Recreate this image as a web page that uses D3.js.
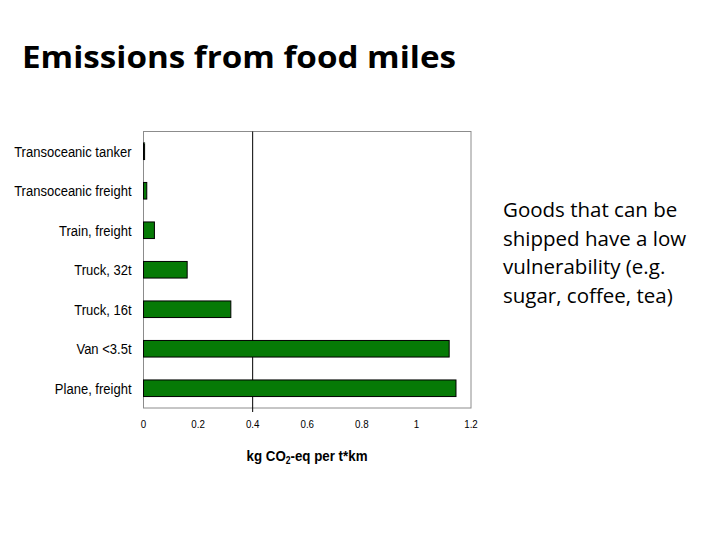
<!DOCTYPE html>
<html>
<head>
<meta charset="utf-8">
<script src="https://cdn.jsdelivr.net/npm/d3@7"></script>
<style>
body { margin: 0; background: #fff; }
</style>
</head>
<body>
<div id="vis"></div>
<script>
const modes = ["Transoceanic tanker", "Transoceanic freight", "Train, freight", "Truck, 32t", "Truck, 16t", "Van <3.5t", "Plane, freight"];
const emissions = [0.004, 0.012, 0.04, 0.16, 0.32, 1.12, 1.145];
const xTicks = [0, 0.2, 0.4, 0.6, 0.8, 1, 1.2];
const noteLines = ["Goods that can be", "shipped have a low", "vulnerability (e.g.", "sugar, coffee, tea)"];

const WIDTH = 720;
const HEIGHT = 540;
const PLOT = {left: 143.5, right: 471, top: 131.5, bottom: 408};
const NARROW = 'Liberation Sans Narrow, Liberation Sans, sans-serif';

const svg = d3.select('#vis')
    .append('svg')
    .attr('width', WIDTH)
    .attr('height', HEIGHT);

// slide title
svg.append('text')
    .attr('x', 22)
    .attr('y', 68)
    .attr('font-family', 'Open Sans, sans-serif')
    .attr('font-weight', 'bold')
    .attr('font-size', 31)
    .attr('textLength', 434)
    .attr('lengthAdjust', 'spacingAndGlyphs')
    .text('Emissions from food miles');

const X_SCALE = d3.scaleLinear()
    .domain([0, 1.2])
    .range([PLOT.left, PLOT.right]);

const Y_SCALE = d3.scaleBand()
    .domain(modes)
    .range([PLOT.top, PLOT.bottom])
    .paddingInner(0.58)
    .paddingOuter(0.29);

// plot frame
svg.append('rect')
    .attr('x', PLOT.left)
    .attr('y', PLOT.top)
    .attr('width', PLOT.right - PLOT.left)
    .attr('height', PLOT.bottom - PLOT.top)
    .attr('fill', 'none')
    .attr('stroke', '#8c8c8c')
    .attr('stroke-width', 1);

// reference line at 0.4
svg.append('line')
    .attr('x1', X_SCALE(0.4))
    .attr('x2', X_SCALE(0.4))
    .attr('y1', PLOT.top)
    .attr('y2', PLOT.bottom + 4)
    .attr('stroke', '#000')
    .attr('stroke-width', 1);

svg.selectAll('.bar')
    .data(emissions)
    .enter()
    .append('rect')
        .attr('class', 'bar')
        .attr('x', X_SCALE(0))
        .attr('y', (d, i) => Y_SCALE(modes[i]))
        .attr('width', (d) => X_SCALE(d) - X_SCALE(0))
        .attr('height', Y_SCALE.bandwidth())
        .attr('fill', '#067a06')
        .attr('stroke', '#000')
        .attr('stroke-width', 1);

// category labels
const yAxis = svg.append('g')
    .attr('transform', 'translate(' + (PLOT.left - 12) + ',0)')
    .call(d3.axisLeft(Y_SCALE).tickSize(0).tickPadding(0));
yAxis.select('.domain').remove();
yAxis.selectAll('text')
    .attr('font-family', NARROW)
    .attr('font-size', 15.5)
    .attr('fill', '#000')
    .attr('transform', 'scale(0.84,1)')
    .attr('dy', '0.35em');

// x tick labels
const xAxis = svg.append('g')
    .attr('transform', 'translate(0,' + PLOT.bottom + ')')
    .call(d3.axisBottom(X_SCALE).tickValues(xTicks).tickFormat(d3.format('')).tickSize(0).tickPadding(12));
xAxis.select('.domain').remove();
xAxis.selectAll('text')
    .attr('font-family', NARROW)
    .attr('font-size', 11.5)
    .attr('fill', '#000')
    .attr('transform', 'scale(0.85,1)');
xAxis.selectAll('.tick')
    .attr('transform', (d) => 'translate(' + X_SCALE(d) + ',0)');

// axis title
const title = svg.append('text')
    .attr('transform', 'translate(307,461) scale(0.86,1)')
    .attr('text-anchor', 'middle')
    .attr('font-family', NARROW)
    .attr('font-weight', 'bold')
    .attr('font-size', 15.5);
title.append('tspan').text('kg CO');
title.append('tspan').attr('font-size', 10).attr('dy', 3).text('2');
title.append('tspan').attr('dy', -3).text('-eq per t*km');

// side note
svg.append('g')
    .selectAll('text')
    .data(noteLines)
    .enter()
    .append('text')
        .attr('x', 503)
        .attr('y', (d, i) => 217 + i * 28.7)
        .attr('font-family', 'Open Sans, sans-serif')
        .attr('font-size', 20.5)
        .attr('fill', '#000')
        .text((d) => d);
</script>
</body>
</html>
